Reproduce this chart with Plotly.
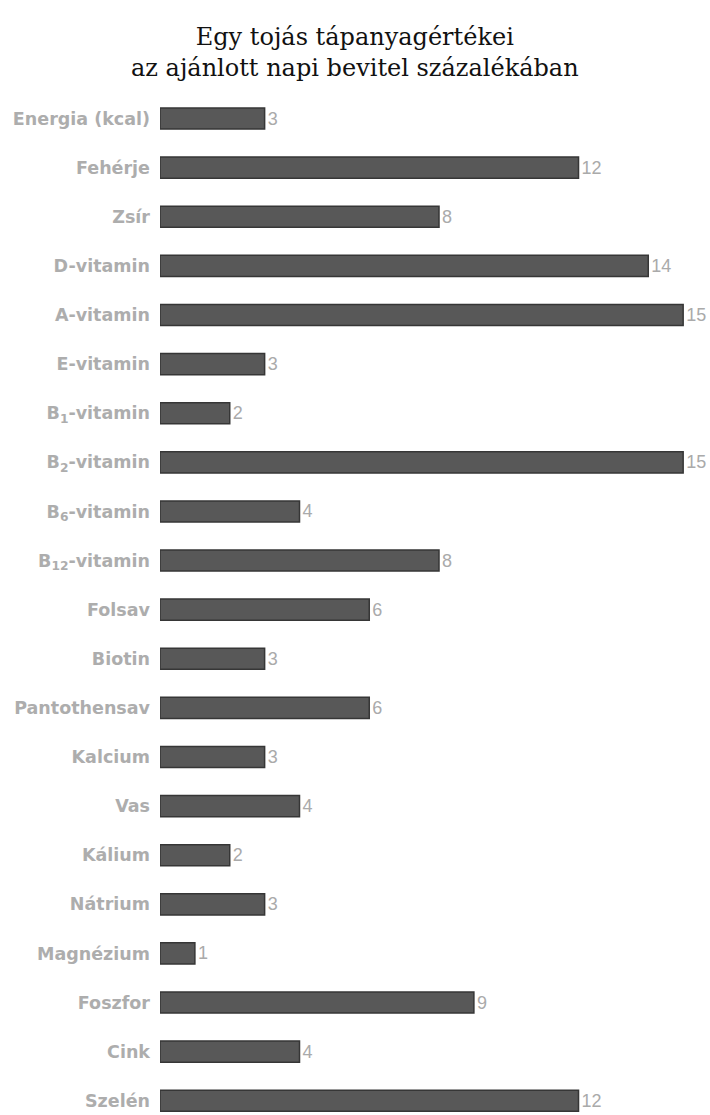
import plotly.graph_objects as go

categories = ["Energia (kcal)", "Fehérje", "Zsír", "D-vitamin", "A-vitamin", "E-vitamin",
              "B<sub>1</sub>-vitamin", "B<sub>2</sub>-vitamin", "B<sub>6</sub>-vitamin",
              "B<sub>12</sub>-vitamin", "Folsav", "Biotin", "Pantothensav", "Kalcium", "Vas",
              "Kálium", "Nátrium", "Magnézium", "Foszfor", "Cink", "Szelén"]
values = [3, 12, 8, 14, 15, 3, 2, 15, 4, 8, 6, 3, 6, 3, 4, 2, 3, 1, 9, 4, 12]

title_text = "Egy tojás tápanyagértékei<br>az ajánlott napi bevitel százalékában"

fig = go.Figure(go.Bar(
    x=values, y=categories, orientation="h",
    marker=dict(color="#585858", line=dict(color="#363636", width=1.5)),
    width=0.43,
    text=[str(v) for v in values], textposition="outside", constraintext="none",
    textfont=dict(family="Liberation Sans", size=18, color="#aaaaaa"),
    cliponaxis=False,
))

fig.add_annotation(
    text=title_text, xref="paper", yref="paper", x=0.355, y=1 + (94 - 21) / 1021,
    xanchor="center", yanchor="top", showarrow=False, align="center",
    font=dict(family="DejaVu Serif", size=24, color="#111111"),
)

fig.update_layout(
    width=710, height=1115,
    margin=dict(l=160, r=0, t=94, b=0),
    paper_bgcolor="white", plot_bgcolor="white",
    showlegend=False,
    xaxis=dict(range=[0, 15.77], visible=False, showgrid=False, zeroline=False),
    yaxis=dict(type="category", range=[20.29, -0.5], showgrid=False, zeroline=False,
               showline=False, ticks="", ticklabelstandoff=9,
               tickfont=dict(family="DejaVu Sans", size=17.5, color="#adadad", weight="bold")),
)

fig.write_html("out.html")
